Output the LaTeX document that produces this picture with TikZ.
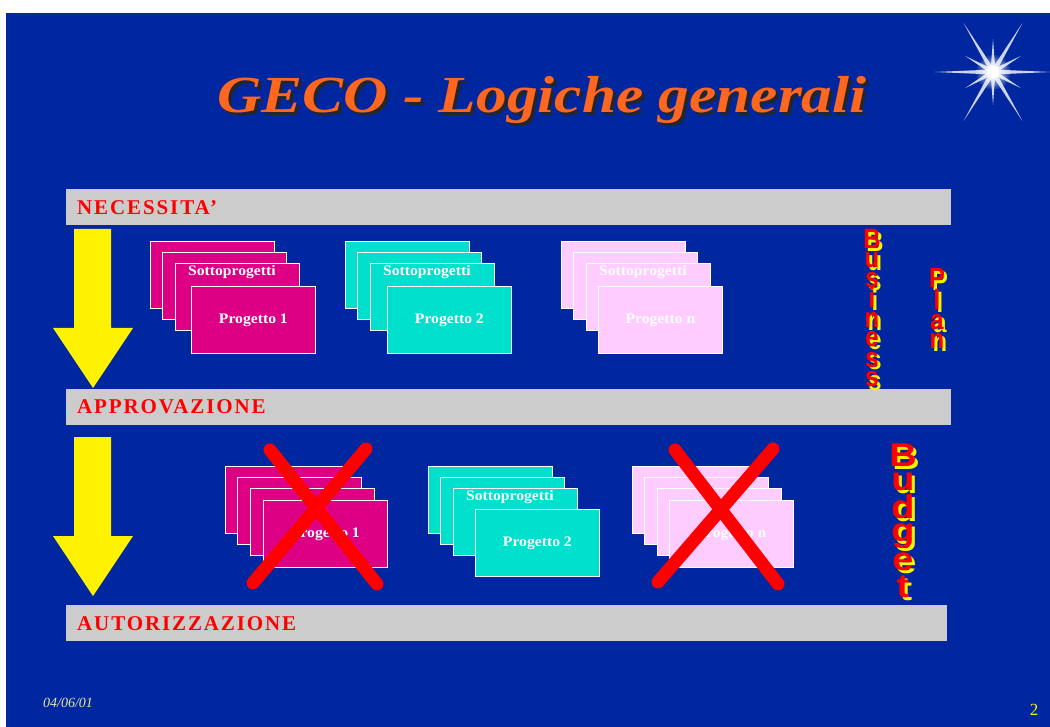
\documentclass[tikz,border=0pt]{standalone}
\usepackage{fontspec}
\setmainfont{Liberation Serif}
\newfontfamily\titlefont[FakeStretch=1.18]{Liberation Serif}
\newfontfamily\barfont[LetterSpace=9]{Liberation Serif}
\newfontfamily\cardfont[FakeStretch=1.08]{Liberation Serif}
\newfontfamily\lettersfont[FakeStretch=0.85]{Liberation Sans}
\newfontfamily\budgetfont[FakeStretch=1.15]{Liberation Sans}
\usetikzlibrary{positioning, calc}
\definecolor{mBlue}{HTML}{0027A0}
\definecolor{mMagenta}{HTML}{DD0085}
\definecolor{mCyan}{HTML}{00E0CC}
\definecolor{mPink}{HTML}{FFCCFF}
\definecolor{mGray}{HTML}{CCCCCC}
\definecolor{mOrange}{HTML}{FF6620}
\definecolor{mRed}{HTML}{FF0000}
\definecolor{mDate}{HTML}{E8E8A0}
\tikzset{
  card/.style={draw=white, line width=0.8pt, minimum width=124pt, minimum height=67pt,
    anchor=north west, inner sep=0pt},
  cardtxt/.style={text=white, font=\cardfont\bfseries\fontsize{14.5}{14.5}\selectfont},
  bar/.style={fill=mGray, minimum height=36pt, text width=863pt, inner xsep=11pt,
    inner ysep=0pt, align=left, anchor=north west, text=mRed,
    font=\barfont\bfseries\fontsize{21}{21}\selectfont},
  cross/.style={mRed, line width=13pt, line cap=round},
  bigarrow/.style={fill=yellow},
  vletter/.style={text=mRed, anchor=base, inner sep=0pt, font=\lettersfont\bfseries\fontsize{28}{28}\selectfont},
  vshadow/.style={vletter, text=yellow},
  bletter/.style={text=mRed, anchor=base, inner sep=0pt, font=\budgetfont\bfseries\fontsize{33}{33}\selectfont},
  bshadow/.style={bletter, text=yellow},
}
\begin{document}
\begin{tikzpicture}[x=1pt, y=-1pt]
    \useasboundingbox (0,0) rectangle (1050,727);
    \fill[mBlue] (6,13) rectangle (1050,727);
    % star
    \shade[inner color=white, outer color=mBlue] (993,72) circle (18);
    \foreach \a/\l in {0/58, 180/58, 59/57, 121/57, 239/57, 301/57, 90/33, 270/33, 30/32, 150/32, 210/32, 330/32} {
      \fill[white, opacity=.8, shift={(993,72)}, rotate=\a] (0,-2.5) -- (\l,0) -- (0,2.5) -- (-4,0) -- cycle;
    }
    \fill[white] (993,72) circle (6);
    % title
    \node[anchor=base, text=black!85, font=\titlefont\bfseries\itshape\fontsize{52}{52}\selectfont] (titleshadow) at (545,116) {GECO - Logiche generali};
    \node[anchor=base, text=mOrange, font=\titlefont\bfseries\itshape\fontsize{52}{52}\selectfont] (title) at (542,113) {GECO - Logiche generali};
    % phases
    \node[bar] (nec) at (66,189) {NECESSITA’};
    \node[bar] (appr) at (66,389) {APPROVAZIONE};
    \node[bar, text width=859pt] (aut) at (66,605) {AUTORIZZAZIONE};
    \foreach \y in {229, 437} {
      \fill[bigarrow] (74,\y) -- ++(37,0) -- ++(0,99) -- ++(22,0) -- ++(-40,60) -- ++(-40,-60) -- ++(21,0) -- cycle;
    }
    % projects
    \foreach \n/\x/\y/\dx/\dy/\fc/\lbl/\sub in {a/150/241/41/45/mMagenta/Progetto 1/Sottoprogetti,
        b/345/241/42/45/mCyan/Progetto 2/Sottoprogetti, c/561/241/37/45/mPink/Progetto n/Sottoprogetti,
        d/225/466/38/34/mMagenta/Progetto 1/, e/428/466/47/43/mCyan/Progetto 2/Sottoprogetti,
        f/632/466/37/34/mPink/Progetto n/} {
      \node[card, fill=\fc] (\n1) at (\x,\y) {};
      \node[card, fill=\fc] (\n2) at ($(\x,\y)+(12,11)$) {};
      \node[card, fill=\fc] (\n3) at ($(\x,\y)+(25,22)$) {};
      \node[cardtxt, inner sep=0.5pt, below left=2pt and -39pt of \n3.north] (s\n) {\sub};
      \node[card, fill=\fc, cardtxt] (\n4) at ($(\x,\y)+(\dx,\dy)$) {\lbl};
    }
    % rejected
    \draw[cross] (270,450) -- (377,584);
    \draw[cross] (253,583) -- (366,449);
    \draw[cross] (675,450) -- (778,584);
    \draw[cross] (658,582) -- (773,449);
    % business plan
    \foreach \ch/\y [count=\i] in {B/249, u/268, s/288, i/308, n/328, e/347, s/367, s/387} {
      \node[vshadow] (bs\i) at (875,\y+3) {\ch};
      \node[vletter] (bp\i) at (872,\y) {\ch};
    }
    \foreach \ch/\y [count=\i] in {P/288, l/310, a/330, n/349} {
      \node[vshadow] (ps\i) at (940,\y+3) {\ch};
      \node[vletter] (pl\i) at (937,\y) {\ch};
    }
    % budget
    \foreach \ch/\y [count=\i] in {B/466, u/490, d/518, g/541, e/570, t/597} {
      \node[bshadow] (gs\i) at (906,\y+3) {\ch};
      \node[bletter] (bu\i) at (903,\y) {\ch};
    }
    % footer
    \node[anchor=base west, inner sep=0pt, text=mDate, font=\itshape\fontsize{14}{14}\selectfont] (date) at (43,707) {04/06/01};
    \node[anchor=base, inner sep=0pt, text=yellow, font=\fontsize{17}{17}\selectfont] (pnum) at (1034,715) {2};
  \end{tikzpicture}
\end{document}
